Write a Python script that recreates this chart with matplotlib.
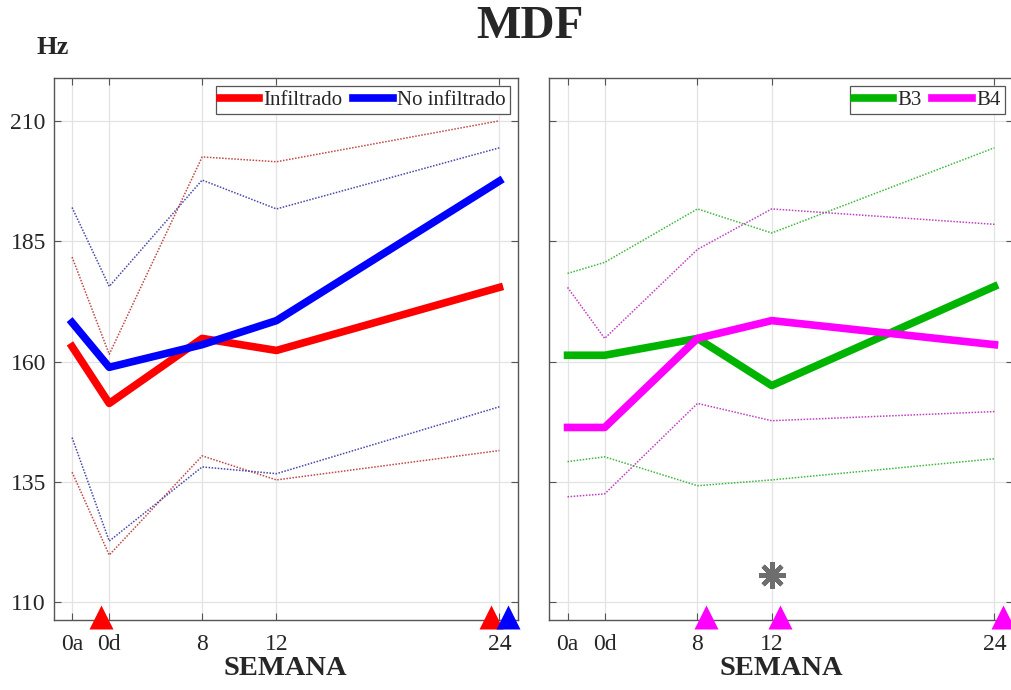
import matplotlib
matplotlib.use("Agg")
import matplotlib.pyplot as plt

# ---- data ----
weeks_x = [1, 3, 8, 12, 24]
week_labels = ['0a', '0d', '8', '12', '24']
y_ticks = [110, 135, 160, 185, 210]

inf_mean = [163.1, 151.3, 164.8, 162.3, 175.4]
inf_upper = [181.7, 161.5, 202.5, 201.5, 210.0]
inf_lower = [137.0, 119.8, 140.4, 135.4, 141.5]
noinf_mean = [168.1, 158.8, 163.5, 168.5, 197.5]
noinf_upper = [192.0, 175.6, 197.7, 191.7, 204.4]
noinf_lower = [144.2, 122.7, 138.1, 136.7, 150.6]

b3_mean = [161.3, 161.3, 164.8, 155.0, 175.6]
b3_upper = [178.3, 180.6, 191.7, 186.7, 204.4]
b3_lower = [139.2, 140.2, 134.2, 135.4, 139.8]
b4_mean = [146.3, 146.3, 164.8, 168.5, 163.5]
b4_upper = [175.4, 164.8, 183.3, 191.7, 188.5]
b4_lower = [131.9, 132.5, 151.3, 147.7, 149.6]

# significance markers (week positions)
sig_inf_weeks = [3, 24]
sig_noinf_weeks = [24]
sig_b4_weeks = [8, 12, 24]
sig_between_weeks = [12]
sig_between_value = [115.6]

plt.rcParams['font.family'] = ['Liberation Serif', 'DejaVu Serif']

fig = plt.figure(figsize=(10.11, 6.9), dpi=100)
W, H = 1011, 690
ax1 = fig.add_axes([53.5 / W, 1 - 620 / H, (518 - 53.5) / W, (620 - 78) / H])
ax2 = fig.add_axes([549 / W, 1 - 620 / H, (1013 - 549) / W, (620 - 78) / H])

RED, BLUE, GREEN, MAG = '#ff0000', '#0000ff', '#00b400', '#ff00ff'
dot = (0, (1, 1))


def style(ax, show_ylabels):
    ax.set_xlim(0, 25)
    ax.set_ylim(106.3, 218.9)
    ax.set_xticks(weeks_x)
    ax.set_xticklabels(week_labels)
    ax.set_yticks(y_ticks)
    if not show_ylabels:
        ax.set_yticklabels([])
    ax.grid(True, color='#e3e3e3', linewidth=0.9)
    ax.set_axisbelow(True)
    ax.tick_params(direction='in', top=True, right=True, length=5,
                   width=0.8, color='#555555', labelsize=17,
                   labelcolor='#262626')
    ax.tick_params(axis='x', pad=10)
    ax.tick_params(axis='y', pad=5.5)
    for s in ax.spines.values():
        s.set_color('#555555')
        s.set_linewidth(1.0)
    ax.set_xlabel('SEMANA', fontsize=20.5, fontweight='bold', color='#262626',
                  labelpad=1)


style(ax1, True)
style(ax2, False)

# left panel
ax1.plot(weeks_x, inf_upper, color='#c04848', lw=1.1, ls=dot)
ax1.plot(weeks_x, inf_lower, color='#c04848', lw=1.1, ls=dot)
ax1.plot(weeks_x, noinf_upper, color='#4848a8', lw=1.1, ls=dot)
ax1.plot(weeks_x, noinf_lower, color='#4848a8', lw=1.1, ls=dot)
ax1.plot(weeks_x, inf_mean, color=RED, lw=5.5, label='Infiltrado')
ax1.plot(weeks_x, noinf_mean, color=BLUE, lw=5.5, label='No infiltrado')
ax1.plot([w - 0.45 for w in sig_inf_weeks], [107] * len(sig_inf_weeks), '^',
         color=RED, ms=17, mec='none', clip_on=False, zorder=5)
ax1.plot([w + 0.45 for w in sig_noinf_weeks], [107] * len(sig_noinf_weeks), '^',
         color=BLUE, ms=17, mec='none', clip_on=False, zorder=5)

# right panel
ax2.plot(weeks_x, b3_upper, color='#40b840', lw=1.1, ls=dot)
ax2.plot(weeks_x, b3_lower, color='#40b840', lw=1.1, ls=dot)
ax2.plot(weeks_x, b4_upper, color='#c040c0', lw=1.1, ls=dot)
ax2.plot(weeks_x, b4_lower, color='#c040c0', lw=1.1, ls=dot)
ax2.plot(weeks_x, b3_mean, color=GREEN, lw=5.5, label='B3')
ax2.plot(weeks_x, b4_mean, color=MAG, lw=5.5, label='B4')
ax2.plot([w + 0.45 for w in sig_b4_weeks], [107] * len(sig_b4_weeks), '^',
         color=MAG, ms=17, mec='none', clip_on=False, zorder=5)
ax2.plot(sig_between_weeks, sig_between_value, marker=(8, 2, 0), ls='none',
         color='#6e6e6e', ms=19, mew=3.2, zorder=5)

for ax in (ax1, ax2):
    leg = ax.legend(loc='upper right', ncol=2, fontsize=15, handlelength=1.9,
                    handletextpad=0.2, columnspacing=0.5, borderpad=0.2,
                    borderaxespad=0.4, fancybox=False, framealpha=1)
    leg.get_frame().set_edgecolor('#555555')
    leg.get_frame().set_linewidth(0.9)
    for t in leg.get_texts():
        t.set_color('#262626')

fig.text(530 / W, 1 - 27 / H, 'MDF', ha='center', va='center', fontsize=34,
         fontweight='bold', color='#262626')
fig.text(53 / W, 1 - 47 / H, 'Hz', ha='center', va='center', fontsize=19,
         fontweight='bold', color='#262626')

fig.savefig('out.png', dpi=100)
